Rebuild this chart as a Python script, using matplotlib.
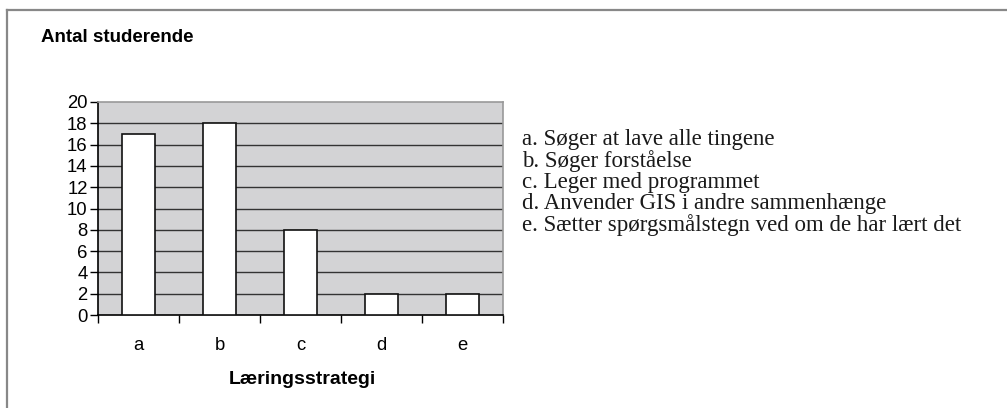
import matplotlib
matplotlib.use("Agg")
import matplotlib.pyplot as plt
from matplotlib.lines import Line2D

categories = ["a", "b", "c", "d", "e"]
values = [17, 18, 8, 2, 2]
descriptions = [
    "a. Søger at lave alle tingene",
    "b. Søger forståelse",
    "c. Leger med programmet",
    "d. Anvender GIS i andre sammenhænge",
    "e. Sætter spørgsmålstegn ved om de har lært det",
]
yticks = list(range(0, 21, 2))

W, H = 1007, 408
fig = plt.figure(figsize=(W / 100, H / 100), dpi=100)
fig.patch.set_facecolor("white")

L, R, T, B = 98, 503, 102, 315
ax = fig.add_axes([L / W, 1 - B / H, (R - L) / W, (B - T) / H])
ax.set_facecolor("#d3d3d5")

x = list(range(len(categories)))
ax.bar(x, values, width=0.41, color="white", edgecolor="#111111", linewidth=1.2, zorder=3)

ax.set_xlim(-0.5, len(categories) - 0.5)
ax.set_ylim(0, 20)
ax.set_yticks(yticks)
ax.set_yticklabels([str(v) for v in yticks], fontsize=13.3, family="Liberation Sans")
for v in yticks[1:-1]:
    ax.axhline(v, color="#333333", linewidth=1.0, zorder=1)

ax.set_xticks([i - 0.5 for i in range(len(categories) + 1)])
ax.set_xticklabels([])
ax.set_xticks(x, minor=True)
ax.set_xticklabels(categories, minor=True, fontsize=13.3, family="Liberation Sans")
ax.tick_params(axis="x", which="major", length=6, width=1, direction="out", color="black")
ax.tick_params(axis="x", which="minor", length=0, pad=16)
ax.tick_params(axis="y", length=6, width=1, direction="out", color="black", pad=1.5)

for s in ["top", "right"]:
    ax.spines[s].set_color("#999999")
    ax.spines[s].set_linewidth(1.2)
for s in ["left", "bottom"]:
    ax.spines[s].set_color("black")
    ax.spines[s].set_linewidth(1.2)

fig.text(302 / W, 1 - 380 / H, "Læringsstrategi", ha="center", va="center",
         fontsize=14, fontweight="bold", family="Liberation Sans")
fig.text(41 / W, 1 - 37 / H, "Antal studerende", ha="left", va="center",
         fontsize=13.5, fontweight="bold", family="Liberation Sans")

for i, d in enumerate(descriptions):
    fig.text(522 / W, 1 - (139 + i * 21.6) / H, d, ha="left", va="center",
             fontsize=16.5, family="Liberation Serif", color="#1a1a1a")

fig.add_artist(Line2D([7 / W, 1.0], [1 - 10 / H, 1 - 10 / H], color="#888888", linewidth=1.6,
                      transform=fig.transFigure))
fig.add_artist(Line2D([7 / W, 7 / W], [1 - 10 / H, 0], color="#888888", linewidth=1.6,
                      transform=fig.transFigure))

fig.savefig("out.png", dpi=100)
